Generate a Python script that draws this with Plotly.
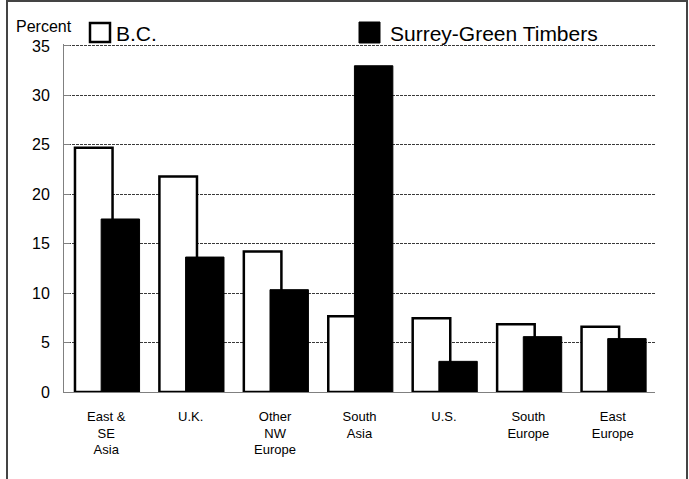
import plotly.graph_objects as go

categories = ["East &<br>SE<br>Asia", "U.K.", "Other<br>NW<br>Europe", "South<br>Asia",
              "U.S.", "South<br>Europe", "East<br>Europe"]
bc_values = [24.7, 21.8, 14.2, 7.65, 7.45, 6.85, 6.6]
surrey_values = [17.5, 13.65, 10.35, 33.0, 3.1, 5.6, 5.4]
series_names = ["B.C.", "Surrey-Green Timbers"]
y_ticks = [0, 5, 10, 15, 20, 25, 30, 35]

FONT = "Arial, 'Liberation Sans', sans-serif"

fig = go.Figure()
fig.add_trace(go.Bar(
    x=categories, y=bc_values, name=series_names[0],
    marker=dict(color="white", line=dict(color="black", width=2.5)),
    width=0.445, offset=-0.37, showlegend=False,
))
fig.add_trace(go.Bar(
    x=categories, y=surrey_values, name=series_names[1],
    marker=dict(color="black", line=dict(color="black", width=1)),
    width=0.455, offset=-0.06, showlegend=False,
))

# plot area: x 64..655, y 44..392 px (y=35 sits at 46 px)
W, H = 689, 479
L, R, T, B = 64, 34, 44, 87
pw, ph = W - L - R, H - T - B

def px(x):
    return (x - L) / pw

def py(y):
    return (H - B - y) / ph

shapes = [
    # outer frame
    dict(type="rect", xref="paper", yref="paper",
         x0=px(7), x1=px(687), y0=py(520), y1=py(1),
         line=dict(color="#444444", width=2), fillcolor="rgba(0,0,0,0)", layer="below"),
    # legend swatches
    dict(type="rect", xref="paper", yref="paper",
         x0=px(90), x1=px(110), y0=py(42), y1=py(23),
         line=dict(color="black", width=2.5), fillcolor="white"),
    dict(type="rect", xref="paper", yref="paper",
         x0=px(359), x1=px(380), y0=py(43), y1=py(22),
         line=dict(color="black", width=1), fillcolor="black"),
]

annotations = [
    dict(text="Percent", xref="paper", yref="paper", x=px(44), y=py(26),
         xanchor="center", yanchor="middle", showarrow=False,
         font=dict(family=FONT, size=16, color="black")),
    dict(text=series_names[0], xref="paper", yref="paper", x=px(114), y=py(34),
         xanchor="left", yanchor="middle", showarrow=False,
         font=dict(family=FONT, size=21, color="black")),
    dict(text=series_names[1], xref="paper", yref="paper", x=px(388), y=py(34),
         xanchor="left", yanchor="middle", showarrow=False,
         font=dict(family=FONT, size=21, color="black")),
]

fig.update_layout(
    width=W, height=H,
    margin=dict(l=L, r=R, t=T, b=B, pad=0),
    paper_bgcolor="white", plot_bgcolor="white",
    barmode="overlay",
    font=dict(family=FONT, color="black"),
    shapes=shapes, annotations=annotations,
    xaxis=dict(
        type="category", showline=True, linecolor="#808080", linewidth=1,
        showgrid=False, ticks="", tickfont=dict(size=13, color="black"),
        ticklabelstandoff=12, zeroline=False,
    ),
    yaxis=dict(
        range=[0, 35.2], tickvals=y_ticks, showline=True, linecolor="#808080", linewidth=1,
        showgrid=True, gridcolor="#3a3a3a", griddash="3px,1px", gridwidth=1,
        ticks="inside", ticklen=6, tickcolor="#808080",
        tickfont=dict(size=16, color="black"), zeroline=False,
        ticklabelstandoff=10,
    ),
)

fig.write_html("out.html", config={"displayModeBar": False},
               post_script="document.body.style.margin='0';document.body.style.overflow='hidden';")
